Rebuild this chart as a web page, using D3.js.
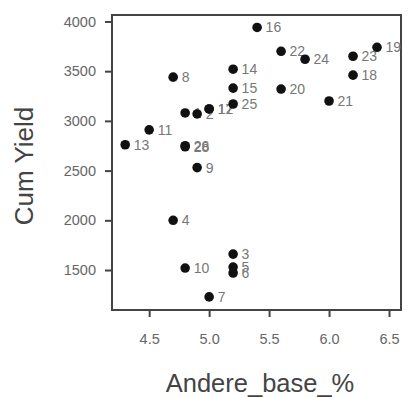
<!DOCTYPE html>
<html>
<head>
<meta charset="utf-8">
<script src="https://cdn.jsdelivr.net/npm/d3@7/dist/d3.min.js"></script>
<style>
  html, body { margin: 0; padding: 0; background: #fff; }
  svg { display: block; font-family: "Liberation Sans", Arial, sans-serif; }
</style>
</head>
<body>
<svg id="chart" width="409" height="398"></svg>
<script>
// Sample ids, base percentage and cumulative yield
const ids    = ["1","2","3","4","5","6","7","8","9","10","11","12","13","14","15","16","17","18","19","20","21","22","23","24","25","26","28"];
const base   = [4.8, 4.9, 5.2, 4.7, 5.2, 5.2, 5.0, 4.7, 4.9, 4.8, 4.5, 5.0, 4.3, 5.2, 5.2, 5.4, 5.0, 6.2, 6.4, 5.6, 6.0, 5.6, 6.2, 5.8, 5.2, 4.8, 4.8];
const yieldV = [3080, 3070, 1660, 2000, 1530, 1470, 1230, 3440, 2530, 1520, 2910, 3120, 2760, 3520, 3330, 3940, 3120, 3460, 3740, 3320, 3200, 3700, 3650, 3620, 3170, 2750, 2740];

const xTicks = [4.5, 5.0, 5.5, 6.0, 6.5];
const yTicks = [1500, 2000, 2500, 3000, 3500, 4000];

const svg = d3.select("#chart");
const box = { left: 112, right: 401, top: 15, bottom: 310 };

const x = d3.scaleLinear().domain([4.19, 6.6]).range([box.left, box.right]);
const y = d3.scaleLinear().domain([1098, 4065]).range([box.bottom, box.top]);

// Axes with ticks pointing outward
const xAxis = svg.append("g")
  .attr("transform", `translate(0,${box.bottom})`)
  .call(d3.axisBottom(x).tickValues(xTicks).tickFormat(d3.format(".1f")).tickSize(7).tickPadding(17));
const yAxis = svg.append("g")
  .attr("transform", `translate(${box.left},0)`)
  .call(d3.axisLeft(y).tickValues(yTicks).tickFormat(d3.format("d")).tickSize(7).tickPadding(9));

[xAxis, yAxis].forEach(g => {
  g.select(".domain").remove();
  g.selectAll(".tick line").attr("stroke", "#444").attr("stroke-width", 2);
  g.selectAll(".tick text").attr("fill", "#666").style("font-size", "14.5px").style("font-family", "Liberation Sans, Arial, sans-serif");
});

// Plot frame
svg.append("rect")
  .attr("x", box.left).attr("y", box.top)
  .attr("width", box.right - box.left).attr("height", box.bottom - box.top)
  .attr("fill", "none").attr("stroke", "#444").attr("stroke-width", 2);

const pts = ids.map((id, i) => ({ id, bx: base[i], yv: yieldV[i] }));

// Point labels beneath the markers
svg.append("g").selectAll("text").data(pts).join("text")
  .attr("x", d => x(d.bx) + 8.5)
  .attr("y", d => y(d.yv))
  .attr("dy", "0.36em")
  .attr("fill", "#777")
  .style("font-size", "14px")
  .text(d => d.id);

// Markers
svg.append("g").selectAll("circle").data(pts).join("circle")
  .attr("cx", d => x(d.bx))
  .attr("cy", d => y(d.yv))
  .attr("r", 4.8)
  .attr("fill", "#111");

// Axis titles
svg.append("text")
  .attr("x", 260)
  .attr("y", 392)
  .attr("text-anchor", "middle")
  .attr("fill", "#444")
  .style("font-size", "25.5px")
  .text("Andere_base_%");

svg.append("text")
  .attr("transform", `translate(33,166) rotate(-90)`)
  .attr("text-anchor", "middle")
  .attr("fill", "#444")
  .style("font-size", "26px")
  .text("Cum Yield");
</script>
</body>
</html>
